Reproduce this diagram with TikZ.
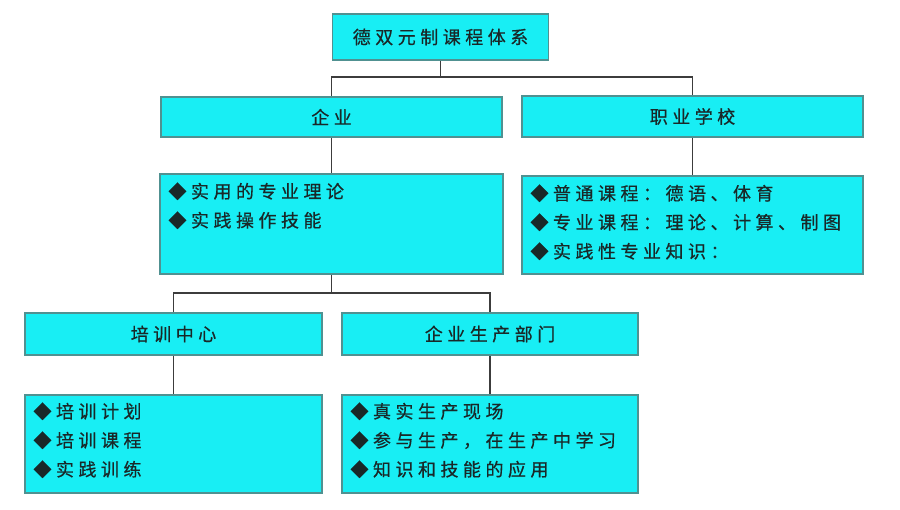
\documentclass[tikz,border=0pt]{standalone}
\usepackage{fontspec}
\newfontfamily\cjk[LetterSpace=25,FakeBold=0.6]{Noto Sans CJK SC}
\definecolor{boxfill}{RGB}{24,238,244}
\definecolor{boxline}{RGB}{80,145,145}
\definecolor{conn}{RGB}{60,60,60}
\definecolor{txt}{RGB}{25,40,40}
\tikzset{
  cbox/.style={draw=boxline, line width=1.4pt, fill=boxfill, inner sep=0pt},
  lbl/.style={font=\cjk\fontsize{18}{18}\selectfont, text=txt, inner sep=0pt},
  lst/.style={font=\cjk\fontsize{18}{29}\selectfont, text=txt, inner sep=0pt, align=left, anchor=north west},
  conline/.style={draw=conn, line width=1.8pt}
}
\begin{document}
\begin{tikzpicture}[x=1pt,y=-1pt]
\useasboundingbox[fill=white] (0,0) rectangle (900,509);
% boxes
\node[cbox, minimum width=216pt, minimum height=46pt] (top) at (440.5,37) {};
\node[cbox, minimum width=341pt, minimum height=40pt] (ent) at (331.5,117) {};
\node[cbox, minimum width=341pt, minimum height=41pt] (sch) at (692.5,116.5) {};
\node[cbox, minimum width=343pt, minimum height=100pt] (entl) at (331.5,224) {};
\node[cbox, minimum width=341pt, minimum height=98pt] (schl) at (692.5,225) {};
\node[cbox, minimum width=297pt, minimum height=42pt] (trn) at (173.5,334) {};
\node[cbox, minimum width=296pt, minimum height=42pt] (prd) at (490,334) {};
\node[cbox, minimum width=297pt, minimum height=98pt] (trnl) at (173.5,444) {};
\node[cbox, minimum width=296pt, minimum height=98pt] (prdl) at (490,444) {};
% labels
\node[lbl] (topt) at (top) {德双元制课程体系};
\node[lbl] (entt) at (ent) {企业};
\node[lbl] (scht) at (sch) {职业学校};
\node[lbl] (trnt) at (trn) {培训中心};
\node[lbl] (prdt) at (prd) {企业生产部门};
% lists
\node[lst] (entlt) at ([shift={(9,9)}]entl.north west) {◆实用的专业理论\\◆实践操作技能};
\node[lst] (schlt) at ([shift={(9,9)}]schl.north west) {◆普通课程：德语、体育\\◆专业课程：理论、计算、制图\\◆实践性专业知识：};
\node[lst] (trnlt) at ([shift={(9,8)}]trnl.north west) {◆培训计划\\◆培训课程\\◆实践训练};
\node[lst] (prdlt) at ([shift={(9,8)}]prdl.north west) {◆真实生产现场\\◆参与生产，在生产中学习\\◆知识和技能的应用};
% connectors
\coordinate (j1) at (top.south |- 0,77);
\coordinate (j2) at (entl.south |- 0,293);
\draw[conline] (top.south) -- (j1);
\draw[conline] (j1) -| (ent.north);
\draw[conline] (j1) -| (sch.north);
\draw[conline] (ent.south) -- (entl.north);
\draw[conline] (sch.south) -- (schl.north);
\draw[conline] (entl.south) -- (j2);
\draw[conline] (j2) -| (trn.north);
\draw[conline] (j2) -| (prd.north);
\draw[conline] (trn.south) -- (trnl.north);
\draw[conline] (prd.south) -- (prdl.north);
\end{tikzpicture}
\end{document}
